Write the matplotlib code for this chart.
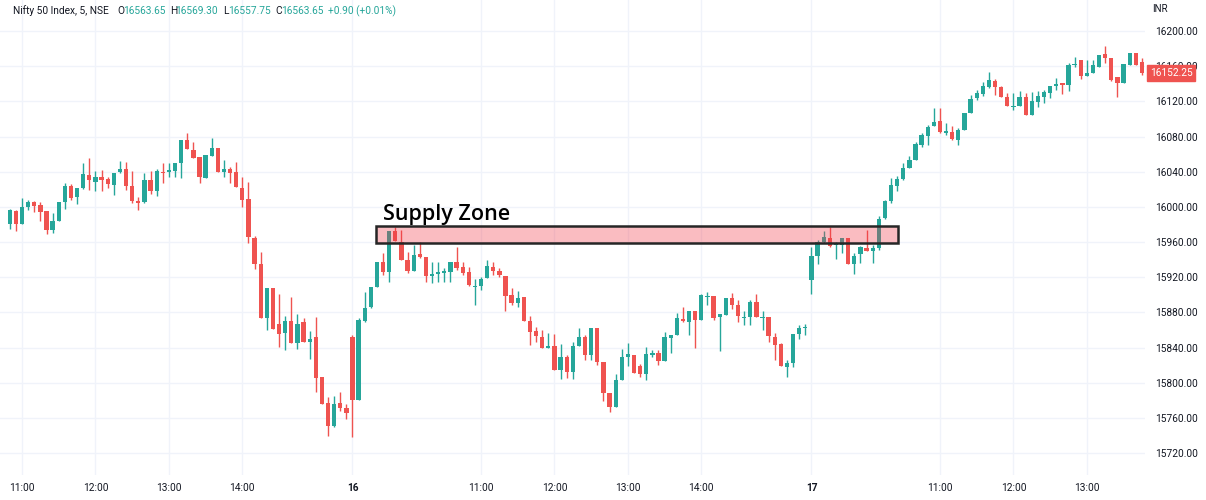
import matplotlib
matplotlib.use("Agg")
import matplotlib.pyplot as plt
import matplotlib.transforms as mtrans
from matplotlib.patches import Rectangle

# ---------------- data (Nifty 50, 5-minute candles) ----------------
opens = [15981, 15995, 15981, 15999.5, 16005, 16002.5, 15995, 15974, 15984, 16005,
         16024, 16011.5, 16021, 16036, 16028.5, 16034, 16031.5, 16025, 16040, 16043,
         16024, 16006.5, 16005, 16030.5, 16018.5, 16040, 16039.5, 16041, 16049.5, 16075.5,
         16064.5, 16057, 16032.5, 16058, 16067, 16039.5, 16043, 16040, 16022, 16008.5,
         15965, 15934.5, 15873.5, 15907.5, 15866.5, 15857, 15870.5, 15845.5, 15868.5, 15846,
         15852, 15806, 15776.5, 15751, 15776.5, 15771.5,
         15852, 15780.5, 15870, 15886, 15909, 15937.5, 15926, 15972, 15960.5, 15939,
         15927.5, 15946.5, 15943.5, 15921.5, 15923.5, 15925, 15925.5, 15937.5, 15932, 15925.5,
         15909, 15910, 15919, 15932, 15927.5, 15921.5, 15900, 15891, 15897, 15870.5,
         15859, 15852.5, 15840, 15842, 15815, 15829.5, 15812.5, 15842, 15851.5, 15831.5,
         15862, 15823, 15788.5, 15772.5, 15802.5, 15829, 15831.5, 15819, 15810, 15831.5,
         15833.5, 15824.5, 15850.5, 15854.5, 15872.5, 15869.5, 15882, 15871.5, 15898, 15899,
         15874.5, 15877, 15896, 15888.5, 15874, 15874.5, 15892, 15873.5, 15874.5, 15852.5,
         15843.5, 15818, 15822, 15855, 15862.5,
         15917, 15944.5, 15960.5, 15964.5, 15956.5, 15956.5, 15964.5, 15934.5, 15946, 15953,
         15950, 15953, 15987, 16007, 16023.5, 16031.5, 16044, 16053.5, 16070.5, 16081,
         16092, 16098, 16083.5, 16085.5, 16076, 16087.5, 16107, 16123.5, 16128.5, 16136.5,
         16143.5, 16136.5, 16125.5, 16114, 16114.5, 16125.5, 16104.5, 16119.5, 16125.5, 16130,
         16137.5, 16140.5, 16138.5, 16161.5, 16167, 16149, 16152.5, 16159.5, 16174, 16169,
         16147.5, 16141, 16161.5, 16174.5, 16165]
highs = [15998, 15996, 16010, 16008, 16007, 16006, 15995.5, 15993, 16005.5, 16027,
         16026, 16021, 16050, 16056, 16041, 16042, 16034.5, 16039, 16052.5, 16051,
         16041, 16011, 16038, 16041, 16042.5, 16049.5, 16050, 16050, 16076.5, 16083.5,
         16074, 16057, 16059, 16078, 16067, 16053.5, 16045.5, 16051.5, 16034.5, 16028.5,
         15967, 15949, 15907.5, 15907.5, 15901, 15876, 15898, 15878, 15873.5, 15859,
         15875, 15806, 15784, 15785, 15789, 15775.5,
         15854.5, 15873.5, 15903.5, 15909, 15937.5, 15947, 15972, 15977, 15973.5, 15949,
         15956.5, 15960.5, 15943.5, 15937.5, 15937.5, 15930, 15937.5, 15954, 15937.5, 15932,
         15918, 15920.5, 15939.5, 15937.5, 15930, 15921.5, 15907.5, 15904.5, 15897, 15876,
         15863.5, 15860, 15856, 15855.5, 15843.5, 15831.5, 15846, 15862, 15854.5, 15862,
         15862, 15823, 15788.5, 15810, 15838.5, 15845, 15831.5, 15821.5, 15840.5, 15837,
         15837, 15858, 15854.5, 15879, 15886, 15881, 15882, 15901, 15903.5, 15899,
         15878, 15896, 15901.5, 15893.5, 15881, 15894, 15901, 15881, 15874.5, 15856,
         15845.5, 15826, 15855.5, 15865.5, 15867,
         15954, 15962.5, 15972, 15977.5, 15960.5, 15964.5, 15964.5, 15947, 15955.5, 15973.5,
         15956.5, 15989.5, 16008, 16032.5, 16035, 16050, 16058, 16074, 16084.5, 16093,
         16112, 16112, 16095, 16092, 16089.5, 16107, 16127.5, 16133, 16142, 16153.5,
         16145, 16137.5, 16130, 16130, 16132, 16130, 16131, 16132, 16133, 16137.5,
         16147, 16140.5, 16163.5, 16170, 16167, 16167, 16167, 16172.5, 16183, 16169,
         16147.5, 16162.5, 16174.5, 16174.5, 16169.5]
lows = [15975, 15972, 15980, 15996, 15994.5, 15984, 15969, 15970, 15983.5, 15998,
        16008, 16003, 16020.5, 16019, 16018.5, 16018.5, 16021, 16013.5, 16038, 16019,
        16004, 15996.5, 16004, 16014.5, 16012.5, 16027, 16033.5, 16034.5, 16032.5, 16065.5,
        16056, 16027, 16032.5, 16058, 16039.5, 16034.5, 16027, 16022.5, 16000, 15958.5,
        15929, 15874, 15860, 15861, 15841, 15837, 15845.5, 15838.5, 15846, 15826.5,
        15789, 15775.5, 15739.5, 15750, 15768, 15758.5,
        15738.5, 15780, 15869, 15885.5, 15909, 15922.5, 15915, 15961.5, 15939.5, 15924.5,
        15927.5, 15941.5, 15915, 15913, 15915, 15915, 15914, 15928, 15922.5, 15910,
        15888.5, 15905.5, 15919, 15922.5, 15920.5, 15881.5, 15888.5, 15886.5, 15870.5, 15843,
        15846.5, 15839, 15839, 15814.5, 15804, 15805, 15804, 15842, 15826, 15826,
        15820, 15779.5, 15767, 15772.5, 15802.5, 15819, 15810.5, 15806.5, 15803, 15829.5,
        15820, 15824.5, 15834, 15854.5, 15869.5, 15854.5, 15839, 15871.5, 15888.5, 15871.5,
        15836.5, 15877, 15883.5, 15868.5, 15865.5, 15865.5, 15874.5, 15860, 15846.5, 15826,
        15819, 15807, 15817.5, 15849.5, 15854.5,
        15900.5, 15935, 15958.5, 15954.5, 15940.5, 15948, 15934.5, 15923.5, 15936, 15950,
        15936.5, 15951.5, 15986, 16004.5, 16018.5, 16030.5, 16044, 16053.5, 16068, 16070.5,
        16092, 16083.5, 16082, 16076, 16070.5, 16087.5, 16107, 16121.5, 16126, 16135,
        16127.5, 16124.5, 16114.5, 16110, 16114.5, 16104.5, 16104.5, 16114, 16118, 16123.5,
        16133, 16128.5, 16132, 16159, 16145, 16149, 16152.5, 16159.5, 16164, 16143.5,
        16124.5, 16141, 16161.5, 16161.5, 16150]
closes = [15996, 15981, 15999.5, 16005, 16001, 15994.5, 15974, 15983.5, 16005, 16024,
          16010, 16021, 16037.5, 16030, 16034, 16030, 16026.5, 16039, 16043, 16023.5,
          16006.5, 16004.5, 16030.5, 16018.5, 16041, 16039, 16042, 16049.5, 16076, 16065.5,
          16056, 16033.5, 16059, 16066.5, 16039.5, 16043, 16038, 16022.5, 16008, 15965.5,
          15935, 15874, 15907.5, 15861, 15855, 15870.5, 15845.5, 15866.5, 15846, 15849.5,
          15805, 15775.5, 15751, 15775.5, 15771.5, 15766,
          15780.5, 15871, 15885.5, 15909, 15937.5, 15925.5, 15972, 15961.5, 15939.5, 15927.5,
          15945.5, 15943.5, 15921.5, 15923.5, 15925.5, 15926.5, 15937.5, 15931, 15924.5, 15911,
          15910.5, 15918, 15933, 15927.5, 15922.5, 15898.5, 15890.5, 15896, 15870.5, 15858,
          15853, 15840, 15842, 15814.5, 15829, 15812.5, 15842, 15851.5, 15831.5, 15862,
          15823, 15788.5, 15772.5, 15802.5, 15829, 15832.5, 15810.5, 15810, 15832.5, 15833.5,
          15824.5, 15851.5, 15854.5, 15873.5, 15870.5, 15881, 15871.5, 15900, 15899, 15873.5,
          15878, 15896, 15888.5, 15876, 15875, 15892, 15874.5, 15874.5, 15853, 15843,
          15819, 15822, 15855.5, 15862.5, 15863.5,
          15944.5, 15960.5, 15966, 15956, 15958, 15964.5, 15934.5, 15944.5, 15954, 15950,
          15953, 15986, 16007, 16025, 16031.5, 16044.5, 16053.5, 16071.5, 16082, 16090.5,
          16097, 16085.5, 16086.5, 16077, 16087.5, 16107, 16122.5, 16130, 16137.5, 16144.5,
          16136.5, 16125.5, 16115, 16115, 16124.5, 16104.5, 16120.5, 16126, 16130.5, 16137.5,
          16139.5, 16138.5, 16161.5, 16162.5, 16149, 16152.5, 16161.5, 16172.5, 16169, 16144.5,
          16141, 16162.5, 16174.5, 16161.5, 16152.25]

tick_pos = [2, 14, 26, 38, 56, 77, 89, 101, 113, 131, 152, 164, 176]
tick_labels = ["11:00", "12:00", "13:00", "14:00", "16", "11:00", "12:00", "13:00",
               "14:00", "17", "11:00", "12:00", "13:00"]
day_labels = ["16", "17"]
price_ticks = list(range(15720, 16201, 40))
zone_low, zone_high = 15959.0, 15978.3
zone_start, zone_end = 59.8, 145.1
zone_label = "Supply Zone"
last_price = closes[-1]

header_parts = [("Nifty 50 Index, 5, NSE", "#131722"), ("O", "#131722"), ("16563.65", "#26a69a"),
                ("H", "#131722"), ("16569.30", "#26a69a"), ("L", "#131722"), ("16557.75", "#26a69a"),
                ("C", "#131722"), ("16563.65", "#26a69a"), ("+0.90 (+0.01%)", "#26a69a")]
header_x = [12.7, 117, 122.7, 170, 175.3, 222.7, 227.7, 275.3, 281, 328]

UP, DOWN = "#26a69a", "#ef5350"
TXT = "#131722"
GRID = "#f0f3fa"

W, H = 1206, 500
fig = plt.figure(figsize=(W / 100, H / 100), dpi=100)
fig.patch.set_facecolor("white")
ax_right_px, ax_bottom_px = 1145, 475
ax = fig.add_axes([0, (H - ax_bottom_px) / H, ax_right_px / W, ax_bottom_px / H])

n = len(opens)
xs = list(range(n))
colors = [UP if c >= o else DOWN for o, c in zip(opens, closes)]
bottoms = [min(o, c) for o, c in zip(opens, closes)]
heights = [max(abs(c - o), 1.0) for o, c in zip(opens, closes)]

ax.vlines(xs, lows, highs, colors=colors, linewidth=1.0, zorder=3)
ax.bar(xs, heights, bottom=bottoms, width=0.7, color=colors, linewidth=0, zorder=4)

# supply zone (semi-transparent drawing over the candles)
ax.add_patch(Rectangle((zone_start, zone_low), zone_end - zone_start, zone_high - zone_low,
                       facecolor=(0.95, 0.21, 0.27, 0.33), edgecolor="#262626",
                       linewidth=1.8, zorder=5))
ax.text(61.0, 15985.5, zone_label, fontsize=15.5, fontweight="semibold",
        family=["Open Sans", "DejaVu Sans"], color="#000000", va="baseline", ha="left", zorder=6)

ax.set_xlim(-1.6, 185.5)
ax.set_ylim(15695.0, 16235.3)

ax.set_yticks(price_ticks)
ax.set_yticklabels([f"{p:.2f}" for p in price_ticks])
ax.yaxis.tick_right()
ax.set_xticks(tick_pos)
ax.set_xticklabels(tick_labels)
for lbl in ax.get_xticklabels():
    if lbl.get_text() in day_labels:
        lbl.set_fontweight("bold")
ax.tick_params(axis="y", length=0, pad=7.5, labelsize=7.3, labelcolor=TXT)
ax.tick_params(axis="x", length=0, pad=5.5, labelsize=7.3, labelcolor=TXT)
for lbl in ax.get_xticklabels() + ax.get_yticklabels():
    lbl.set_family(["Roboto", "DejaVu Sans"])
ax.grid(True, color=GRID, linewidth=1.0, zorder=0)
ax.set_axisbelow(True)
for s in ax.spines.values():
    s.set_visible(False)

# last price label
trans = mtrans.blended_transform_factory(fig.transFigure, ax.transData)
ax.text(1150 / W, last_price, f"{last_price:.2f}", transform=trans, color="white",
        fontsize=7.3, family=["Roboto", "DejaVu Sans"], va="center", ha="left", clip_on=False,
        zorder=20, bbox=dict(boxstyle="square,pad=0.25", facecolor=DOWN, edgecolor=DOWN))

fig.text(1152 / W, 1 - 9 / H, "INR", fontsize=7, color=TXT, va="center", ha="left",
         family=["Roboto", "DejaVu Sans"])

for (txt, col), xp in zip(header_parts, header_x):
    fig.text(xp / W, 1 - 11 / H, txt, fontsize=7.3, color=col, va="center", ha="left",
             family=["Roboto", "DejaVu Sans"])

fig.savefig("out.png", dpi=100, facecolor="white")
